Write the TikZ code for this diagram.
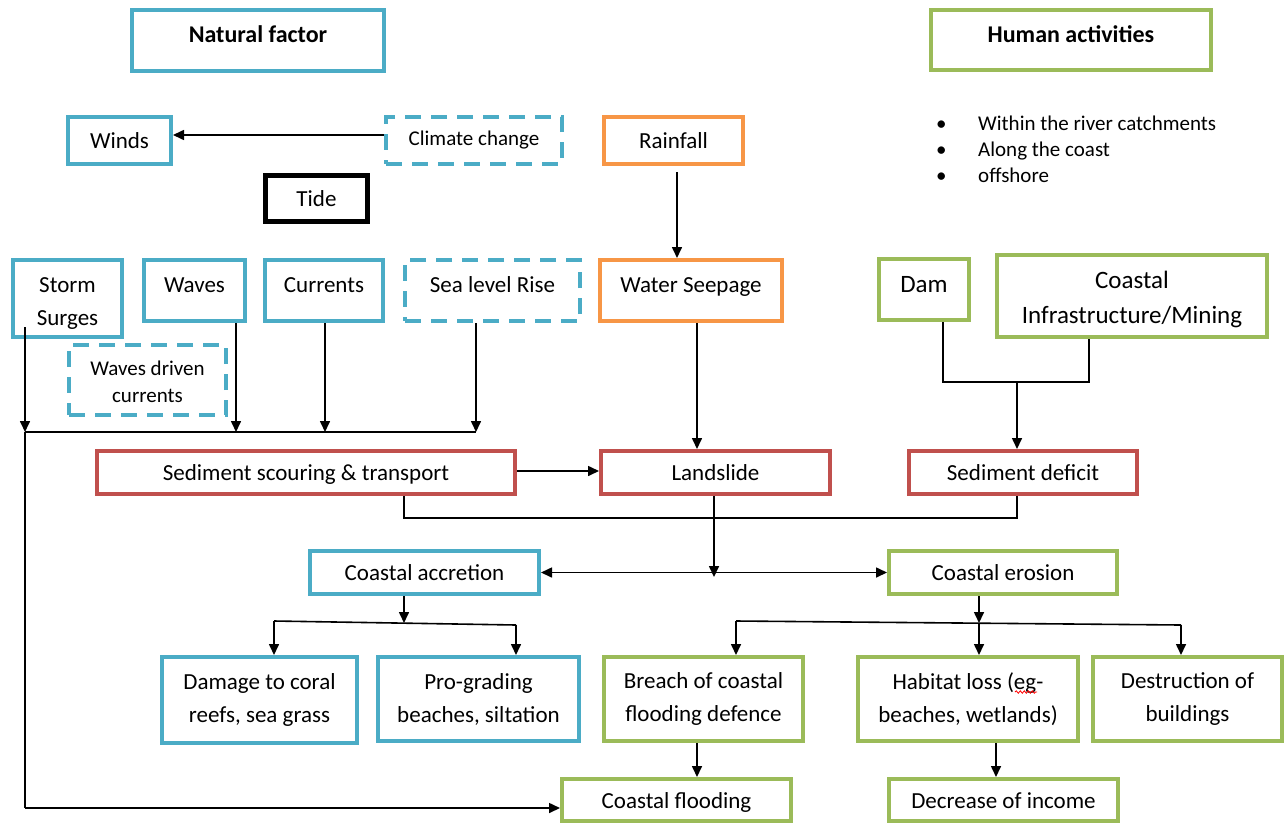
\documentclass[tikz,border=0pt]{standalone}
\usepackage{fontspec}
\setmainfont{Carlito}
\usetikzlibrary{arrows.meta,calc,decorations.pathmorphing}
\definecolor{cblue}{HTML}{4BACC6}
\definecolor{corange}{HTML}{F79646}
\definecolor{cred}{HTML}{C0504D}
\definecolor{cgreen}{HTML}{9BBB59}

\begin{document}
\begin{tikzpicture}[x=1pt,y=-1pt,
  box/.style={draw, line width=4pt, rectangle, inner sep=0pt, align=center,
    font=\fontsize{23}{33}\selectfont},
  one/.style={text height=21pt, text depth=5pt},
  raised/.style={text height=21pt, text depth=#1},
  sz/.style 2 args={minimum width=#1pt, minimum height=#2pt},
  bluebox/.style={box, draw=cblue},
  orangebox/.style={box, draw=corange},
  redbox/.style={box, draw=cred},
  greenbox/.style={box, draw=cgreen},
  dashbox/.style={dash pattern=on 16pt off 10pt},
  headfont/.style={font=\fontsize{24}{30}\selectfont\bfseries},
  smallfont/.style={font=\fontsize{21}{27}\selectfont},
  bigfont/.style={font=\fontsize{25}{35}\selectfont},
  listitem/.style={anchor=west, inner sep=0pt, font=\fontsize{21}{27}\selectfont, text height=19pt, text depth=5pt},
  link/.style={line width=1.6pt},
  arr/.style={link, -{Triangle[length=11pt,width=10pt]}},
  biarr/.style={link, {Triangle[length=11pt,width=10pt]}-{Triangle[length=11pt,width=10pt]}},
  spell/.style={draw=red, line width=0.8pt, decorate,
    decoration={snake, amplitude=1.2pt, segment length=4pt}},
]
\useasboundingbox (0,0) rectangle (1287,825);

% headings
\node[bluebox, headfont, raised=17pt, sz={252}{61}] (nat) at (258,40.5) {Natural factor};
\node[greenbox, headfont, raised=17pt, sz={280}{60}] (hum) at (1071,40) {Human activities};

% list of human activity locations
\node[listitem] (li1b) at (936,123) {•};
\node[listitem] (li1) at (978,123) {Within the river catchments};
\node[listitem] (li2b) at (936,149) {•};
\node[listitem] (li2) at (978,149) {Along the coast};
\node[listitem] (li3b) at (936,175) {•};
\node[listitem] (li3) at (978,175) {offshore};

% natural factors
\node[bluebox, one, sz={103}{47}] (winds) at (119.5,140.5) {Winds};
\node[bluebox, dashbox, smallfont, raised=11pt, sz={176}{47}] (clim) at (474,140.5) {Climate change};
\node[box, draw=black, line width=5pt, one, sz={102}{46}] (tide) at (316.5,198.5) {Tide};
\node[orangebox, one, sz={139}{47}] (rain) at (673.5,140.5) {Rainfall};

\node[bluebox, sz={109}{77}] (ss) at (67.5,298.5) {\rule{0pt}{24pt}Storm\\Surges};
\node[bluebox, raised=17pt, sz={101}{61}] (waves) at (194.5,290.5) {Waves};
\node[bluebox, raised=17pt, sz={118}{61}] (curr) at (324,290.5) {Currents};
\node[bluebox, dashbox, raised=17pt, sz={175}{61}] (slr) at (492.5,290.5) {Sea level Rise};
\node[orangebox, raised=17pt, sz={182}{61}] (seep) at (691,290.5) {Water Seepage};
\node[greenbox, bigfont, raised=15pt, sz={90}{61}] (dam) at (924,289.5) {Dam};
\node[greenbox, bigfont, sz={270}{82}] (infra) at (1132,296) {\rule{0pt}{25pt}Coastal\\Infrastructure/Mining};
\node[bluebox, dashbox, smallfont, sz={157}{70}] (wdc) at (147.5,380) {\rule{0pt}{19pt}Waves driven\\currents};

% sediment processes
\node[redbox, one, sz={418}{43}] (sst) at (306,472.5) {Sediment scouring \& transport};
\node[redbox, one, sz={229}{43}] (land) at (715.5,472.5) {Landslide};
\node[redbox, one, sz={228}{43}] (def) at (1023,472.5) {Sediment deficit};

% coastal change
\node[bluebox, one, sz={229}{43}] (acc) at (424.5,572.5) {Coastal accretion};
\node[greenbox, one, sz={228}{43}] (ero) at (1003,572.5) {Coastal erosion};

% impacts
\node[bluebox, sz={195}{86}] (dmg) at (259.5,700) {Damage to coral\\reefs, sea grass};
\node[bluebox, sz={201}{84}] (pro) at (478.5,699) {Pro-grading\\beaches, siltation};
\node[greenbox, sz={199}{84}] (brc) at (703.5,699) {Breach of coastal\\flooding defence};
\node[greenbox, sz={220}{84}] (hab) at (968,699) {Habitat loss (eg-\\beaches, wetlands)};
\node[greenbox, sz={189}{84}] (des) at (1187.5,699) {Destruction of\\buildings};
\node[greenbox, one, sz={229}{42}] (fld) at (676.5,800) {Coastal flooding};
\node[greenbox, one, sz={229}{42}] (inc) at (1003.5,800) {Decrease of income};

% spell-check mark under "eg"
\draw[spell] ($(hab.center)+(47,-7)$) -- ($(hab.center)+(69,-7)$);

% junction points
\coordinate (bss) at (25,432);
\coordinate (bw) at (236,432);
\coordinate (bc) at (325,432);
\coordinate (bs) at (476,432);
\coordinate (bf) at (25,808);
\coordinate (j1) at (1017,382);
\coordinate (m1) at (404,518);
\coordinate (m2) at (1017,518);
\coordinate (m3) at (714,577);
\coordinate (a0) at (404,623);
\coordinate (a1) at (274,621);
\coordinate (a2) at (516,625);
\coordinate (e0) at (979,623);
\coordinate (e1) at (736,621);
\coordinate (e2) at (1181,625);

% connectors
\draw[arr] ([yshift=5.5pt]clim.west) -- ([yshift=5.5pt]winds.east);
\draw[arr, shorten <=6pt] ([xshift=3.5pt]rain.south) -- ([xshift=-14pt]seep.north);
\draw[arr] ([xshift=6pt]seep.south) -- ([xshift=-18.5pt]land.north);

\draw[link] ([xshift=19pt]dam.south) |- (j1);
\draw[link] ([xshift=-43pt]infra.south) |- (j1);
\draw[arr] (j1) -- (def.north -| j1);

\draw[link] (bss) -- (bs);
\draw[arr] ($(ss.south -| bss)+(0,-12)$) -- (bss);
\draw[arr] (waves.south -| bw) -- (bw);
\draw[arr] (curr.south -| bc) -- (bc);
\draw[arr] (slr.south -| bs) -- (bs);
\draw[link] (bss) -- (bf);
\draw[arr] (bf) -- (fld.west |- bf);

\draw[arr] ([yshift=1.5pt]sst.east) -- ([yshift=1.5pt]land.west);
\draw[link] (sst.south -| m1) -- (m1) -- (m2) -- (def.south -| m2);
\draw[arr] (land.south -| m3) -- (m3);
\draw[biarr] (acc.east) -- (ero.west);

\draw[arr] (acc.south -| a0) -- (a0);
\draw[link] (a1) -- (a2);
\draw[arr] (a1) -- (dmg.north -| a1);
\draw[arr] (a2) -- (pro.north -| a2);

\draw[arr] (ero.south -| e0) -- (e0);
\draw[link] (e1) -- (e2);
\draw[arr] (e1) -- (brc.north -| e1);
\draw[arr] (e0) -- (hab.north -| e0);
\draw[arr] (e2) -- (des.north -| e2);

\draw[arr] ([xshift=-6.5pt]brc.south) -- ([xshift=20.5pt]fld.north);
\draw[arr] ([xshift=28pt]hab.south) -- ([xshift=-7.5pt]inc.north);
\end{tikzpicture}
\end{document}
